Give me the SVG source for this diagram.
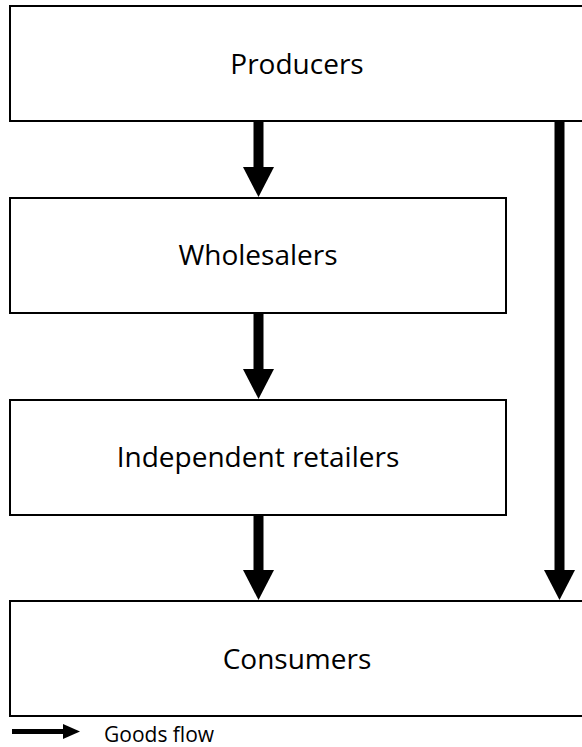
<svg xmlns="http://www.w3.org/2000/svg" width="582" height="747" viewBox="0 0 582 747">
<style>
.box{fill:#fff;stroke:#000;stroke-width:2}
.lbl{font-family:"Open Sans","Noto Sans",sans-serif;font-size:28px;fill:#000;text-anchor:middle;dominant-baseline:central}
.shaft{stroke:#000;stroke-width:10;fill:none}
.head{fill:#000}
</style>
<rect width="582" height="747" fill="#fff"/>
<g id="producers"><rect class="box" x="10" y="6" width="580" height="115"/><text class="lbl" x="297" y="63">Producers</text></g>
<g id="wholesalers"><rect class="box" x="10" y="198" width="496" height="115"/><text class="lbl" x="258" y="254">Wholesalers</text></g>
<g id="retailers"><rect class="box" x="10" y="400" width="496" height="115"/><text class="lbl" x="258" y="456">Independent retailers</text></g>
<g id="consumers"><rect class="box" x="10" y="601" width="580" height="115"/><text class="lbl" x="297" y="658">Consumers</text></g>
<g id="connectors">
<line class="shaft" x1="258.5" y1="122" x2="258.5" y2="168"/><polygon class="head" points="243,167 274,167 258.5,197"/>
<line class="shaft" x1="258.5" y1="314" x2="258.5" y2="370"/><polygon class="head" points="243,369 274,369 258.5,399"/>
<line class="shaft" x1="258.5" y1="516" x2="258.5" y2="571"/><polygon class="head" points="243,570 274,570 258.5,600"/>
<line class="shaft" x1="559.5" y1="122" x2="559.5" y2="571"/><polygon class="head" points="544,570 575,570 559.5,600"/>
</g>
<g id="legend">
<line stroke="#000" stroke-width="5" x1="12" y1="731.5" x2="65" y2="731.5"/><polygon class="head" points="63,724 80,731.5 63,739"/>
<text x="104" y="742" font-family="'Open Sans','Noto Sans',sans-serif" font-size="21" fill="#000">Goods flow</text>
</g>
</svg>
